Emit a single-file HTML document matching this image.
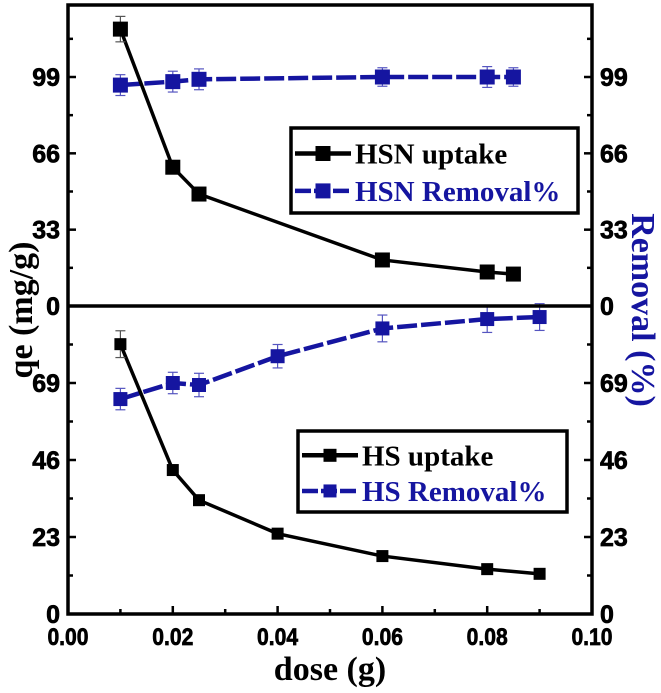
<!DOCTYPE html>
<html><head><meta charset="utf-8"><style>
body{margin:0;background:#fff}
svg text{font-family:"Liberation Sans",sans-serif;font-weight:700}
</style></head><body>
<svg id="chart" width="661" height="688" xmlns="http://www.w3.org/2000/svg"></svg>
<script>
const xTicks=[0,0.02,0.04,0.06,0.08,0.10];
const xTickLabels=["0.00","0.02","0.04","0.06","0.08","0.10"];
const topTicks=[0,33,66,99];
const botTicks=[0,23,46,69];
const hsnDose=[0.01,0.02,0.025,0.06,0.08,0.085];
const hsnUptake=[119.7,60,48.4,19.9,14.7,13.8];
const hsnUptakeErr=[5.5,1.5,1,1,1,1];
const hsnRemoval=[95.5,97,98,99,99,99];
const hsnRemovalErr=[4.5,4.5,4.5,4,4.5,4];
const hsDose=[0.01,0.02,0.025,0.04,0.06,0.08,0.09];
const hsUptake=[80.6,43,34,24,17.3,13.4,12];
const hsUptakeErr=[4,1.3,0.5,0.5,0.5,0.5,0.5];
const hsRemoval=[64.2,69,68.4,77,85.3,88.1,88.7];
const hsRemovalErr=[3.2,3.2,3.5,3.5,4,4,4];

const svg=document.getElementById('chart');
const NS='http://www.w3.org/2000/svg';
const L=68,R=592,T=5,M=306,B=614;
const xs=v=>L+(v-0)/0.10*(R-L);
const yTop=v=>M-v*(M-77)/99;
const yBot=v=>B-v*(B-537)/23;
const BLUE='#1515a0';
function el(tag,attrs,parent){const e=document.createElementNS(NS,tag);for(const k in attrs)e.setAttribute(k,attrs[k]);(parent||svg).appendChild(e);return e;}
function txt(s,attrs){attrs['font-weight']='bold';const t=el('text',attrs);t.textContent=s;return t;}

function series(dx,vals,errs,ys,color,dashed,size,name){
  const g=el('g',{});
  
  
  const pts=dx.map((d,i)=>xs(d)+','+ys(vals[i])).join(' ');
  el('polyline',{points:pts,fill:'none',stroke:color,'stroke-width':dashed?4.5:3.5,'stroke-dasharray':dashed?'20 4':'none'},g);
  dx.forEach((d,i)=>{
    const x=xs(d),y=ys(vals[i]),e=errs[i];
    const y1=ys(vals[i]+e),y2=ys(vals[i]-e);
    const ec=color===BLUE?'#5555c0':'#555';
    el('line',{x1:x,x2:x,y1:y1,y2:y2,stroke:ec,'stroke-width':1.2},g);
    el('line',{x1:x-5,x2:x+5,y1:y1,y2:y1,stroke:ec,'stroke-width':1.2},g);
    el('line',{x1:x-5,x2:x+5,y1:y2,y2:y2,stroke:ec,'stroke-width':1.2},g);
    const m=el('rect',{x:x-size/2,y:y-size/2,width:size,height:size,fill:color},g);
    
    
  });
}
series(hsnDose,hsnRemoval,hsnRemovalErr,yTop,BLUE,true,15,'hsn-removal-series');
series(hsnDose,hsnUptake,hsnUptakeErr,yTop,'#000',false,15,'hsn-uptake-series');
series(hsDose,hsRemoval,hsRemovalErr,yBot,BLUE,true,14,'hs-removal-series');
series(hsDose,hsUptake,hsUptakeErr,yBot,'#000',false,12,'hs-uptake-series');

el('rect',{x:L,y:T,width:R-L,height:B-T,fill:'none',stroke:'#000','stroke-width':3.5});
el('line',{x1:L,x2:R,y1:M,y2:M,stroke:'#000','stroke-width':3.5});

xTicks.forEach((v,i)=>{
  const x=xs(v);
  el('line',{x1:x,x2:x,y1:B,y2:B-8,stroke:'#000','stroke-width':2.5});
  if(i<xTicks.length-1){const xm=xs(v+0.01);el('line',{x1:xm,x2:xm,y1:B,y2:B-5,stroke:'#000','stroke-width':2.5});}
  const t=txt(xTickLabels[i],{x:x,y:B+31,'font-size':24,'text-anchor':'middle',stroke:'#000','stroke-width':0.7,transform:`translate(${x},0) scale(0.88,1) translate(${-x},0)`});
  
  
});
function yTicksFor(ticks,ys,step){
  ticks.forEach((v,i)=>{
    const y=ys(v);
    [[L,L+8],[R,R-8]].forEach(p=>el('line',{x1:p[0],x2:p[1],y1:y,y2:y,stroke:'#000','stroke-width':2.5}));
    const ym=ys(v+step/2);
    [[L,L+5],[R,R-5]].forEach(p=>el('line',{x1:p[0],x2:p[1],y1:ym,y2:ym,stroke:'#000','stroke-width':2.5}));
    const a=txt(String(v),{x:L-8,y:y+9,'font-size':25,'text-anchor':'end',stroke:'#000','stroke-width':0.7});
    
    
    const b=txt(String(v),{x:R+8,y:y+9,'font-size':25,'text-anchor':'start',stroke:'#000','stroke-width':0.7});
    
    
  });
}
yTicksFor(topTicks,yTop,33);
yTicksFor(botTicks,yBot,23);

const xt=txt('dose (g)',{x:(L+R)/2,y:680,'font-size':34,'text-anchor':'middle'});
xt.style.fontFamily='"Liberation Serif",serif';

const yl=txt('qe (mg/g)',{x:0,y:0,'font-size':34,'text-anchor':'middle',transform:'translate(32,310) rotate(-90)'});
yl.style.fontFamily='"Liberation Serif",serif';

const yr=txt('Removal (%)',{x:0,y:0,'font-size':34,'text-anchor':'middle',fill:BLUE,transform:'translate(632,310) rotate(90)'});
yr.style.fontFamily='"Liberation Serif",serif';


function legend(x,y,w,h,items,ms,fs,name){
  const g=el('g',{});
  
  
  el('rect',{x:x,y:y,width:w,height:h,fill:'#fff',stroke:'#000','stroke-width':3.5},g);
  items.forEach((it,i)=>{
    const cy=y+h*(i===0?0.3:0.74);
    el('line',{x1:x+4,x2:x+60,y1:cy,y2:cy,stroke:it.c,'stroke-width':4.5,'stroke-dasharray':it.d?'16 3':'none'},g);
    el('rect',{x:x+32-ms/2,y:cy-ms/2,width:ms,height:ms,fill:it.c},g);
    const t=el('text',{x:x+64,y:cy+10,'font-size':fs,fill:it.c,'font-weight':'bold'},g);
    t.style.fontFamily='"Liberation Serif",serif';
    t.textContent=it.t;
    
    
  });
}
legend(291,128,287,85,[{t:'HSN uptake',c:'#000'},{t:'HSN Removal%',c:BLUE,d:true}],15,29,'top-legend');
legend(298,431,269,81,[{t:'HS uptake',c:'#000'},{t:'HS Removal%',c:BLUE,d:true}],13,29,'bottom-legend');
</script>
</body></html>
